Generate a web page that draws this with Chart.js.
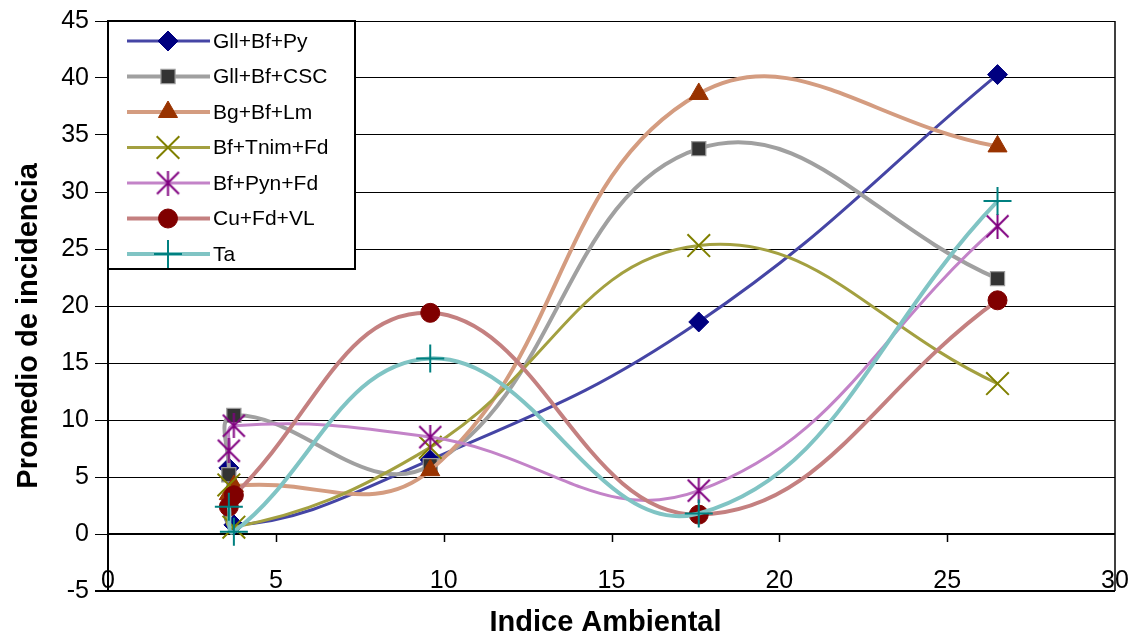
<!DOCTYPE html>
<html>
<head>
<meta charset="utf-8">
<title>Promedio de incidencia vs Indice Ambiental</title>
<script src="https://cdn.jsdelivr.net/npm/chart.js@4.4.0/dist/chart.umd.min.js"></script>
<style>
  html, body { margin: 0; padding: 0; background: #ffffff; }
  #wrap { width: 1139px; height: 637px; }
</style>
</head>
<body>
<div id="wrap"><canvas id="chart" width="1139" height="637"></canvas></div>
<script>
// Environmental index of each site (x) and mean incidence per treatment (y)
const envIndex   = [3.6, 3.75, 9.6, 17.6, 26.5];
const gllBfPy    = [5.8, 0.8, 6.5, 18.6, 40.3];
const gllBfCsc   = [5.2, 10.4, 6.0, 33.8, 22.4];
const bgBfLm     = [3.5, 4.2, 5.6, 38.6, 34.0];
const bfTnimFd   = [4.3, 0.6, 7.6, 25.3, 13.2];
const bfPynFd    = [7.3, 9.5, 8.5, 3.8, 27.0];
const cuFdVl     = [2.4, 3.4, 19.4, 1.7, 20.5];
const ta         = [2.4, 0.2, 15.4, 1.8, 29.2];

const seriesNames = ['Gll+Bf+Py', 'Gll+Bf+CSC', 'Bg+Bf+Lm', 'Bf+Tnim+Fd', 'Bf+Pyn+Fd', 'Cu+Fd+VL', 'Ta'];
const seriesValues = [gllBfPy, gllBfCsc, bgBfLm, bfTnimFd, bfPynFd, cuFdVl, ta];

const xTicks = [0, 5, 10, 15, 20, 25, 30];
const yTicks = [-5, 0, 5, 10, 15, 20, 25, 30, 35, 40, 45];

const xTitle = 'Indice Ambiental';
const yTitle = 'Promedio de incidencia';

const FONT = '"Liberation Sans", Arial, Helvetica, sans-serif';

// asterisk marker: an X with a vertical stroke through it
function asteriskMarker(size, color, lw) {
  const c = document.createElement('canvas');
  c.width = size; c.height = size;
  const g = c.getContext('2d');
  g.strokeStyle = color;
  g.lineWidth = lw;
  const p = 1.5, s = size - 1.5, m = size / 2;
  g.beginPath();
  g.moveTo(p, p); g.lineTo(s, s);
  g.moveTo(s, p); g.lineTo(p, s);
  g.moveTo(m, 0); g.lineTo(m, size);
  g.stroke();
  return c;
}

const styles = [
  { line: '#4545a5', lineWidth: 3,   marker: 'rectRot',  radius: 10, fill: '#000080', stroke: '#000080', mw: 1 },
  { line: '#a0a0a0', lineWidth: 4,   marker: 'rect',     radius: 10, fill: '#333333', stroke: '#9a9a9a', mw: 1.2 },
  { line: '#d49c80', lineWidth: 4,   marker: 'triangle', radius: 11, fill: '#993300', stroke: '#993300', mw: 1 },
  { line: '#a3a040', lineWidth: 3,   marker: 'crossRot', radius: 16, fill: '#808000', stroke: '#808000', mw: 2 },
  { line: '#c383c8', lineWidth: 3,   marker: asteriskMarker(25, '#800080', 2), radius: 12, fill: '#800080', stroke: '#800080', mw: 2 },
  { line: '#c48080', lineWidth: 4,   marker: 'circle',   radius: 9.5, fill: '#800000', stroke: '#800000', mw: 1 },
  { line: '#80c4c4', lineWidth: 4,   marker: 'cross',    radius: 14, fill: '#008080', stroke: '#008080', mw: 2 }
];

const datasets = seriesNames.map((name, i) => ({
  label: name,
  data: envIndex.map((x, k) => ({ x: x, y: seriesValues[i][k] })),
  showLine: true,
  tension: 0.42,
  borderColor: styles[i].line,
  borderWidth: styles[i].lineWidth,
  pointStyle: styles[i].marker,
  pointRadius: styles[i].radius,
  pointHoverRadius: styles[i].radius,
  pointBackgroundColor: styles[i].fill,
  pointBorderColor: styles[i].stroke,
  pointBorderWidth: styles[i].mw,
  order: seriesNames.length - i
}));

// frame: right border, horizontal axis at y = 0 with its tick marks, x tick labels
const framePlugin = {
  id: 'frame',
  beforeDatasetsDraw(chart) {
    const { ctx, chartArea, scales } = chart;
    ctx.save();
    ctx.strokeStyle = '#000';
    ctx.lineWidth = 1.5;
    ctx.beginPath();
    ctx.moveTo(chartArea.right, chartArea.top);
    ctx.lineTo(chartArea.right, chartArea.bottom);
    ctx.stroke();
    const y0 = scales.y.getPixelForValue(0);
    ctx.lineWidth = 2;
    ctx.beginPath();
    ctx.moveTo(chartArea.left, y0);
    ctx.lineTo(chartArea.right, y0);
    ctx.stroke();
    ctx.lineWidth = 1.5;
    xTicks.forEach(v => {
      if (v <= 0 || v >= 30) return;
      const px = Math.round(scales.x.getPixelForValue(v)) + 0.5;
      ctx.beginPath();
      ctx.moveTo(px, y0);
      ctx.lineTo(px, y0 + 8);
      ctx.stroke();
    });
    // category labels of the horizontal axis sit along the lower edge of the plot
    ctx.fillStyle = '#000';
    ctx.font = '25px ' + FONT;
    ctx.textAlign = 'center';
    ctx.textBaseline = 'middle';
    xTicks.forEach(v => {
      ctx.fillText(String(v), scales.x.getPixelForValue(v), chartArea.bottom - 10);
    });
    ctx.restore();
  }
};

// legend box in the upper-left of the plot
const legendPlugin = {
  id: 'boxLegend',
  afterDatasetsDraw(chart) {
    const { ctx, chartArea } = chart;
    const bx = chartArea.left - 1, by = chartArea.top - 1, bw = 249, bh = 250;
    ctx.save();
    ctx.fillStyle = '#fff';
    ctx.fillRect(bx, by, bw, bh);
    ctx.strokeStyle = '#000';
    ctx.lineWidth = 2;
    ctx.strokeRect(bx + 1, by + 1, bw - 2, bh - 2);
    ctx.font = '21px ' + FONT;
    ctx.textAlign = 'left';
    ctx.textBaseline = 'middle';
    seriesNames.forEach((name, i) => {
      const st = styles[i];
      const y = by + 21 + i * 35.5;
      ctx.strokeStyle = st.line;
      ctx.lineWidth = st.lineWidth;
      ctx.beginPath();
      ctx.moveTo(bx + 20, y);
      ctx.lineTo(bx + 103, y);
      ctx.stroke();
      ctx.fillStyle = st.fill;
      ctx.strokeStyle = st.stroke;
      ctx.lineWidth = st.mw;
      Chart.helpers.drawPoint(ctx, { pointStyle: st.marker, radius: st.radius, borderWidth: st.mw, rotation: 0 }, bx + 61, y);
      ctx.fillStyle = '#000';
      ctx.fillText(name, bx + 106, y + 1);
    });
    ctx.restore();
  }
};

// axis titles
const titlePlugin = {
  id: 'axisTitles',
  afterDraw(chart) {
    const { ctx, chartArea } = chart;
    ctx.save();
    ctx.fillStyle = '#000';
    ctx.font = 'bold 29px ' + FONT;
    ctx.textAlign = 'center';
    ctx.textBaseline = 'middle';
    ctx.fillText(xTitle, (chartArea.left + chartArea.right) / 2 - 6, chart.height - 14);
    ctx.translate(29, chartArea.top + (chartArea.bottom - chartArea.top) * 0.535);
    ctx.rotate(-Math.PI / 2);
    ctx.fillText(yTitle, 0, 0);
    ctx.restore();
  }
};

new Chart(document.getElementById('chart'), {
  type: 'scatter',
  data: { datasets: datasets },
  options: {
    responsive: false,
    animation: false,
    devicePixelRatio: 1,
    layout: { padding: { top: 20, right: 24, left: 0, bottom: 0 } },
    plugins: { legend: { display: false }, tooltip: { enabled: false } },
    scales: {
      x: {
        type: 'linear',
        min: 0, max: 30,
        afterBuildTicks: (s) => { s.ticks = xTicks.map(v => ({ value: v })); },
        afterFit: (s) => { s.height = 46; },
        grid: { display: false, drawTicks: false },
        border: { display: false },
        ticks: { display: false }
      },
      y: {
        type: 'linear',
        min: -5, max: 45,
        afterBuildTicks: (s) => { s.ticks = yTicks.map(v => ({ value: v })); },
        afterFit: (s) => { s.width = 108; },
        grid: {
          color: '#000',
          lineWidth: (c) => (c.tick && c.tick.value === -5 ? 2 : 1),
          drawTicks: true,
          tickLength: 13,
          tickColor: '#000'
        },
        border: { display: true, color: '#000', width: 2 },
        ticks: { color: '#000', font: { family: FONT, size: 25 }, padding: 6, autoSkip: false }
      }
    }
  },
  plugins: [framePlugin, legendPlugin, titlePlugin]
});
</script>
</body>
</html>
